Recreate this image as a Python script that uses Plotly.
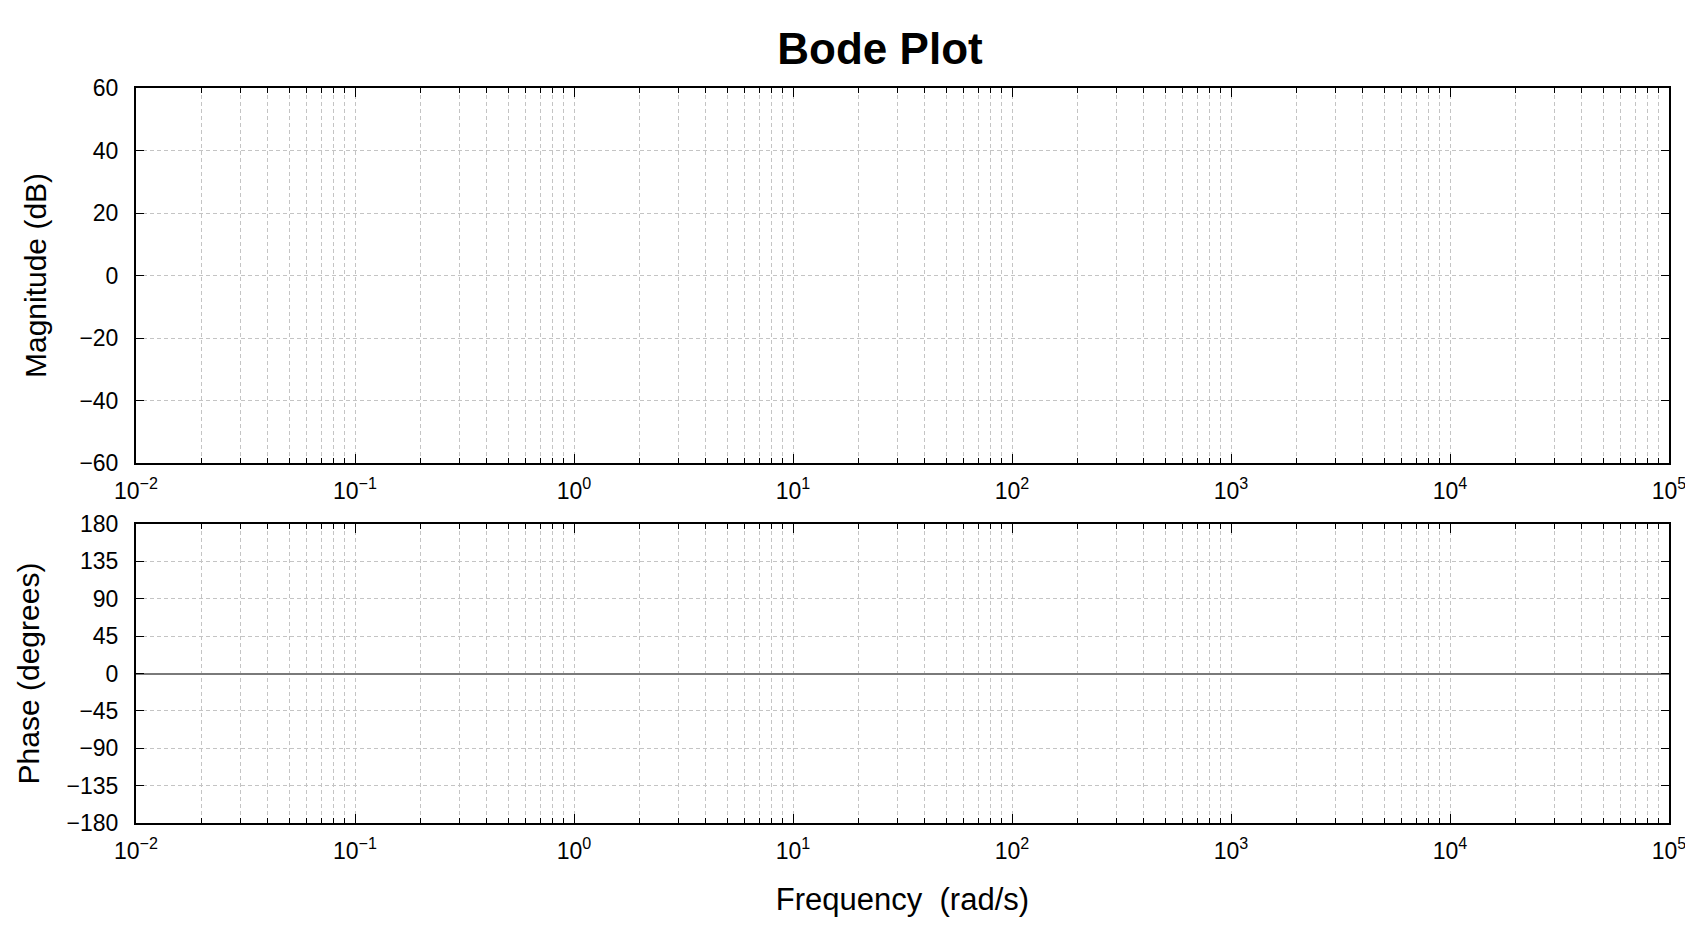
import plotly.graph_objects as go
from plotly.subplots import make_subplots

# Frequency axis (rad/s), log scale, decades from 10^-2 to 10^5
freq_exponents = [-2, -1, 0, 1, 2, 3, 4, 5]
freq_labels = ["10<sup>\u2212%d</sup>" % -e if e < 0 else "10<sup>%d</sup>" % e for e in freq_exponents]
freq_decades = [10.0 ** e for e in freq_exponents]
freq_minor = [m * 10.0 ** e for e in freq_exponents[:-1] for m in range(2, 10)]

# Magnitude axis (dB)
mag_ticks = [-60, -40, -20, 0, 20, 40, 60]

# Phase axis (degrees)
phase_ticks = [-180, -135, -90, -45, 0, 45, 90, 135, 180]

# no response curves in this chart, only empty axes
freq = []
magnitude = []
phase = []

font = "Liberation Sans, Arial, Helvetica, sans-serif"
grid = "#c4c4c4"

fig = make_subplots(rows=2, cols=1)
fig.add_trace(go.Scatter(x=freq, y=magnitude, mode="lines", line=dict(color="black")), row=1, col=1)
fig.add_trace(go.Scatter(x=freq, y=phase, mode="lines", line=dict(color="black")), row=2, col=1)

xaxis_style = dict(
    type="log", range=[-2, 5],
    tickmode="array", tickvals=freq_decades, ticktext=freq_labels,
    ticks="inside", ticklen=9, tickwidth=1, tickcolor="black",
    showline=True, linecolor="black", linewidth=2, mirror="ticks",
    showgrid=True, gridcolor=grid, gridwidth=1, griddash="4px,3px",
    minor=dict(tickmode="array", tickvals=freq_minor, ticks="inside", ticklen=5,
               tickcolor="black", showgrid=True, gridcolor=grid, griddash="4px,3px"),
    zeroline=False, ticklabelstandoff=6,
    tickfont=dict(size=23, color="black", family=font),
)
fig.update_xaxes(**xaxis_style)
fig.update_xaxes(title=dict(text="Frequency\u00a0 (rad/s)", font=dict(size=31, color="black", family=font),
                            standoff=26), row=2, col=1)

yaxis_style = dict(
    tickmode="array",
    ticks="inside", ticklen=8, tickwidth=1, tickcolor="black",
    showline=True, linecolor="black", linewidth=2, mirror="ticks",
    showgrid=True, gridcolor=grid, gridwidth=1, griddash="4px,3px",
    ticklabelstandoff=11,
    tickfont=dict(size=23, color="black", family=font),
)
fig.update_yaxes(**yaxis_style)
fig.update_yaxes(range=[-60, 60], tickvals=mag_ticks, zeroline=False, domain=[0.4898, 1],
                 title=dict(text="Magnitude (dB)", font=dict(size=30, color="black", family=font), standoff=24),
                 row=1, col=1)
fig.update_yaxes(range=[-180, 180], tickvals=phase_ticks, domain=[0, 0.4068],
                 zeroline=True, zerolinecolor="#7a7a7a", zerolinewidth=1.5,
                 title=dict(text="Phase (degrees)", font=dict(size=30, color="black", family=font), standoff=18),
                 row=2, col=1)

fig.update_layout(
    width=1693, height=929,
    title=dict(text="<b>Bode Plot</b>", x=872 / 1693, xanchor="center", y=1 - 41 / 929, yanchor="middle",
               font=dict(size=44, color="black", family=font)),
    margin=dict(l=128, r=32, t=80, b=114),
    paper_bgcolor="white", plot_bgcolor="white",
    showlegend=False,
    font=dict(family=font, color="black"),
)

fig.write_html("out.html")
